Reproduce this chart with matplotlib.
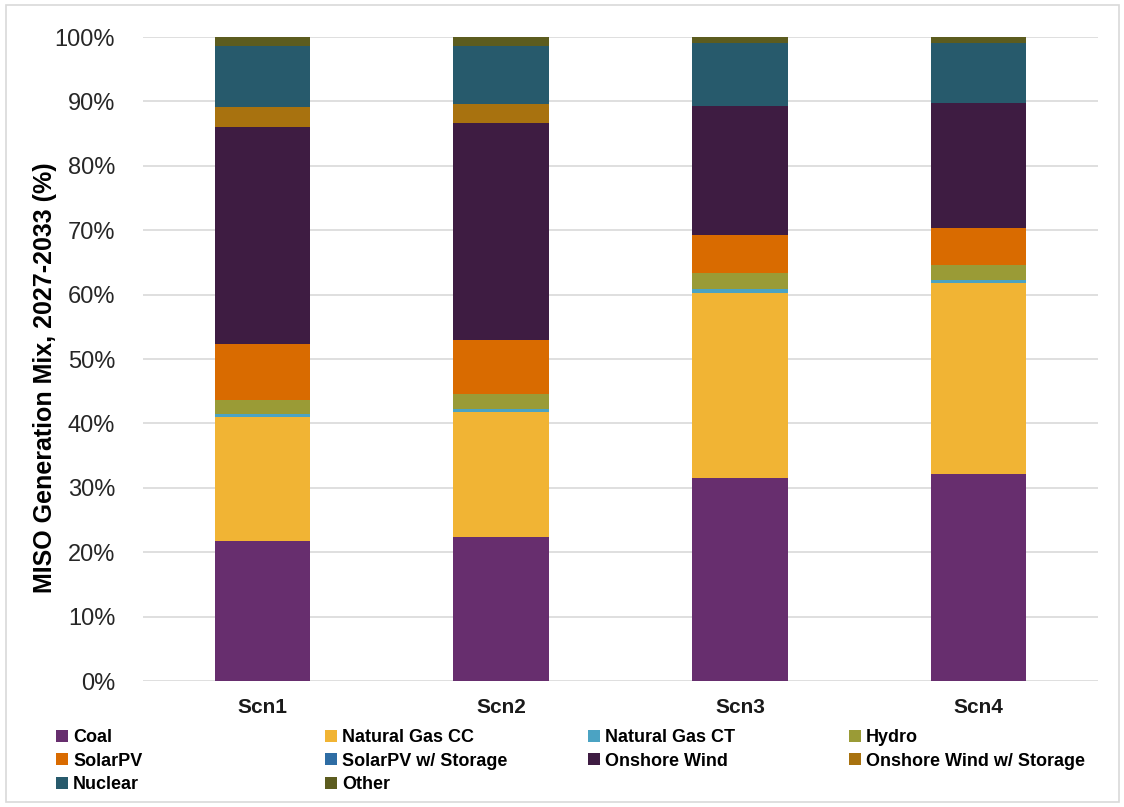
import matplotlib
matplotlib.use("Agg")
import matplotlib.pyplot as plt
from matplotlib.patches import Patch, Rectangle
import numpy as np

plt.rcParams['font.family'] = ['Liberation Sans', 'DejaVu Sans']

scenarios = ["Scn1", "Scn2", "Scn3", "Scn4"]
coal = [21.8, 22.4, 31.5, 32.1]
ng_cc = [19.2, 19.3, 28.8, 29.7]
ng_ct = [0.5, 0.5, 0.6, 0.5]
hydro = [2.2, 2.4, 2.4, 2.3]
solar_pv = [8.7, 8.3, 6.0, 5.8]
solar_pv_storage = [0.0, 0.0, 0.0, 0.0]
onshore_wind = [33.7, 33.8, 20.0, 19.3]
onshore_wind_storage = [3.1, 2.9, 0.0, 0.0]
nuclear = [9.4, 9.0, 9.8, 9.4]
other = [1.4, 1.4, 0.9, 0.9]

series_names = ["Coal", "Natural Gas CC", "Natural Gas CT", "Hydro", "SolarPV",
                "SolarPV w/ Storage", "Onshore Wind", "Onshore Wind w/ Storage",
                "Nuclear", "Other"]
series_values = [coal, ng_cc, ng_ct, hydro, solar_pv, solar_pv_storage,
                 onshore_wind, onshore_wind_storage, nuclear, other]
colors = ["#672E6E", "#F1B434", "#4BA3C3", "#9A9B36", "#D96B00",
          "#2E6DA4", "#3E1C42", "#A8720F", "#275A6C", "#5C5C1F"]
yticks = [0, 10, 20, 30, 40, 50, 60, 70, 80, 90, 100]

fig = plt.figure(figsize=(11.24, 8.07), dpi=100)
ax = fig.add_axes([143/1124, 1-681/807, (1098-143)/1124, (681-37)/807])

x = np.arange(len(scenarios))
bottom = np.zeros(len(scenarios))
for name, vals, col in zip(series_names, series_values, colors):
    v = np.array(vals)
    ax.bar(x, v, width=0.4, bottom=bottom, color=col, label=name, zorder=3)
    bottom += v

ax.set_xlim(-0.5, len(scenarios) - 0.5)
ax.set_ylim(0, 100)
ax.set_yticks(yticks)
ax.set_yticklabels([f"{t}%" for t in yticks], fontsize=17, color="#262626")
ax.set_xticks(x)
ax.set_xticklabels(scenarios, fontsize=15, fontweight="bold", color="#1a1a1a")
ax.tick_params(axis="y", length=0, pad=20)
ax.tick_params(axis="x", length=0, pad=12)
ax.grid(axis="y", color="#D9D9D9", linewidth=1.2, zorder=0)
for s in ax.spines.values():
    s.set_visible(False)

fig.text(45/1124, 1-378/807, "MISO Generation Mix, 2027-2033 (%)", rotation=90,
         ha="center", va="center", fontsize=18, fontweight="bold", color="#000000")

# legend: four columns, row-major order
col_x = [56, 325, 588, 849]
ncol = 4
for c in range(ncol):
    idx = list(range(c, len(series_names), ncol))
    handles = [Patch(facecolor=colors[i], edgecolor="none") for i in idx]
    labels = [series_names[i] for i in idx]
    fig.legend(handles, labels, loc="upper left",
               bbox_to_anchor=(col_x[c]/1124, 1-729/807),
               frameon=False, handlelength=0.65, handleheight=0.65,
               handletextpad=0.3, labelspacing=0.36, borderaxespad=0,
               borderpad=0,
               prop={"size": 13, "weight": "bold"})

fig.patches.append(Rectangle((6/1124, 1-802/807), (1119-6)/1124, (802-5)/807,
                             transform=fig.transFigure, fill=False,
                             edgecolor="#D9D9D9", linewidth=1.2))

fig.savefig("out.png", dpi=100)
